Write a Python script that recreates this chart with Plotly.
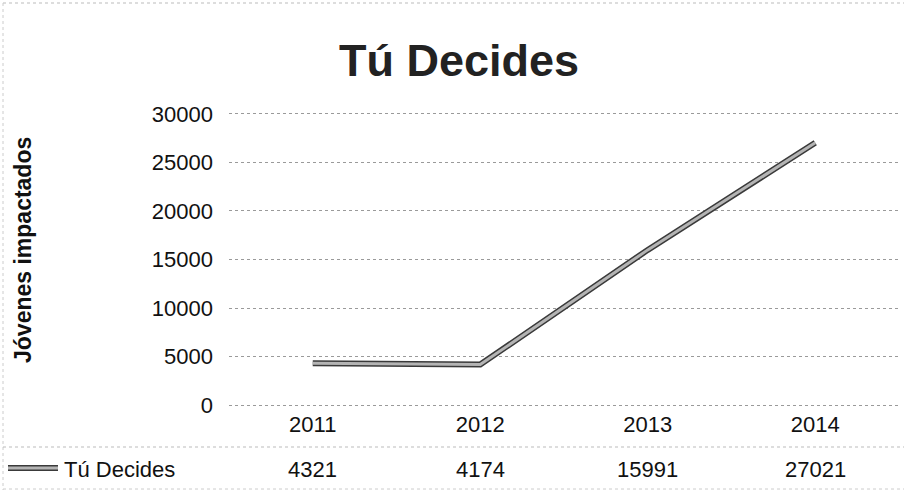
import plotly.graph_objects as go

years = ["2011", "2012", "2013", "2014"]
values = [4321, 4174, 15991, 27021]
series_name = "Tú Decides"
chart_title = "Tú Decides"
y_title = "Jóvenes impactados"
y_ticks = [0, 5000, 10000, 15000, 20000, 25000, 30000]
y_tick_text = ["0", "5000", "10000", "15000", "20000", "25000", "30000"]

FONT = "Liberation Sans, Arial, sans-serif"
W, H = 907, 493
L, R, T, B = 229, 8, 111, 85
pw, ph = W - L - R, H - T - B

def px_x(x):
    return (x - L) / pw

def px_y(y):
    return (H - B - y) / ph

fig = go.Figure()
fig.add_trace(go.Scatter(x=years, y=values, mode="lines", name=series_name,
                         line=dict(color="#3a3a3a", width=6), hoverinfo="skip", showlegend=False))
fig.add_trace(go.Scatter(x=years, y=values, mode="lines", name=series_name,
                         line=dict(color="#b4b4b4", width=3), showlegend=False))

annotations = [
    dict(text=y_title, xref="paper", yref="paper", x=px_x(23), y=px_y(250), textangle=-90,
         showarrow=False, font=dict(family=FONT, size=23, color="#111", weight="bold"),
         xanchor="center", yanchor="middle"),
    dict(text=series_name, xref="paper", yref="paper", x=px_x(62), y=px_y(469),
         showarrow=False, font=dict(family=FONT, size=22, color="#111"), xanchor="left", yanchor="middle"),
]
for i, v in enumerate(values):
    annotations.append(dict(text=str(v), xref="x", yref="paper", x=i, y=px_y(469), showarrow=False,
                            font=dict(family=FONT, size=22, color="#111"), xanchor="center", yanchor="middle"))

shapes = [
    dict(type="line", xref="paper", yref="paper", x0=px_x(8), x1=px_x(58), y0=px_y(468), y1=px_y(468),
         line=dict(color="#3a3a3a", width=6)),
    dict(type="line", xref="paper", yref="paper", x0=px_x(8), x1=px_x(58), y0=px_y(468), y1=px_y(468),
         line=dict(color="#b4b4b4", width=3)),
    dict(type="line", xref="paper", yref="paper", x0=px_x(3), x1=px_x(904), y0=px_y(3), y1=px_y(3),
         line=dict(color="#bbbbbb", width=1, dash="dot")),
    dict(type="line", xref="paper", yref="paper", x0=px_x(3), x1=px_x(3), y0=px_y(3), y1=px_y(490),
         line=dict(color="#cccccc", width=1, dash="dot")),
    dict(type="line", xref="paper", yref="paper", x0=px_x(3), x1=px_x(904), y0=px_y(447), y1=px_y(447),
         line=dict(color="#bbbbbb", width=1, dash="dot")),
    dict(type="line", xref="paper", yref="paper", x0=px_x(3), x1=px_x(904), y0=px_y(489), y1=px_y(489),
         line=dict(color="#cccccc", width=1, dash="dot")),
]

fig.update_layout(
    width=W, height=H,
    margin=dict(l=L, r=R, t=T, b=B),
    paper_bgcolor="white", plot_bgcolor="white",
    title=dict(text=chart_title, xref="paper", x=px_x(459), xanchor="center", y=1 - 60 / H, yanchor="middle",
               font=dict(family=FONT, size=45, color="#222", weight="bold")),
    xaxis=dict(type="category", showgrid=False, zeroline=False, showline=False, ticks="",
               tickfont=dict(family=FONT, size=22, color="#111"), ticklabelstandoff=1,
               range=[-0.5, 3.5]),
    yaxis=dict(range=[-300, 30300], tickvals=y_ticks, ticktext=y_tick_text, showgrid=True,
               gridcolor="#9a9a9a", griddash="dot", gridwidth=1, zeroline=False, showline=False,
               ticks="", tickfont=dict(family=FONT, size=22, color="#111"), ticklabelstandoff=15),
    annotations=annotations,
    shapes=shapes,
    showlegend=False,
)

fig.write_html("out.html", config={"displayModeBar": False},
               post_script="document.body.style.margin='0';")
